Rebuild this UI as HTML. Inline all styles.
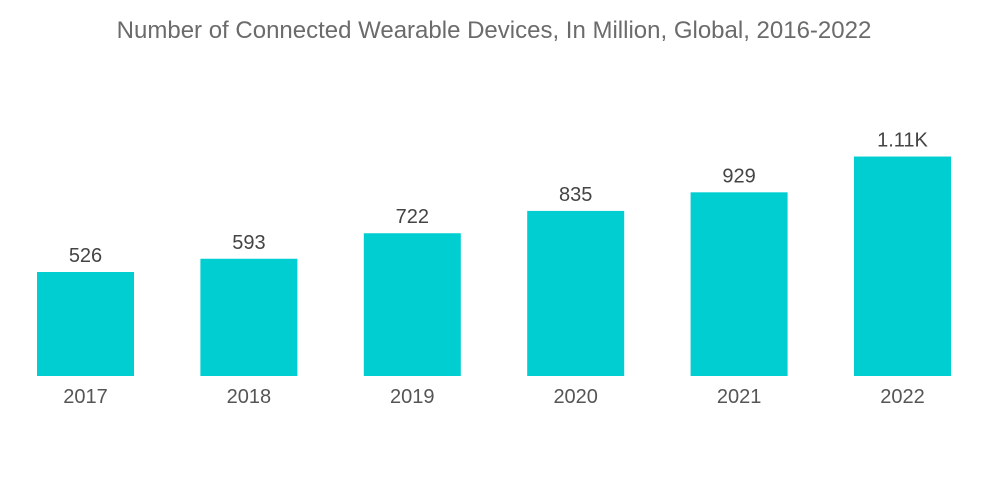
<!DOCTYPE html>
<html><head><meta charset="utf-8"><style>
body{margin:0;background:#fff;}
svg{display:block;font-family:"Liberation Sans",sans-serif;}
</style></head><body>
<svg id="chart" width="1000" height="504">
<text x="494" y="38" text-anchor="middle" font-size="24" fill="#6b6b6b">Number of Connected Wearable Devices, In Million, Global, 2016-2022</text>
</svg>
<script>
const categories=["2017","2018","2019","2020","2021","2022"];
const values=[526,593,722,835,929,1110];
const valueLabels=["526","593","722","835","929","1.11K"];
const svg=document.getElementById('chart');
const NS="http://www.w3.org/2000/svg";
const baseY=376, pxPerUnit=104/526, x0=37, step=163.4, bw=97;
function xPos(i){return x0+i*step;}
function yPos(v){return baseY-v*pxPerUnit;}
categories.forEach((c,i)=>{
  const x=xPos(i), y=yPos(values[i]);
  const r=document.createElementNS(NS,'rect');
  r.setAttribute('x',x);r.setAttribute('y',y);r.setAttribute('width',bw);r.setAttribute('height',baseY-y);r.setAttribute('fill','#00ced1');
  
  
  svg.appendChild(r);
  const t=document.createElementNS(NS,'text');
  t.setAttribute('x',x+bw/2);t.setAttribute('y',y-10);t.setAttribute('text-anchor','middle');t.setAttribute('font-size','20');t.setAttribute('fill','#444');
  t.textContent=valueLabels[i];
  
  
  svg.appendChild(t);
  const l=document.createElementNS(NS,'text');
  l.setAttribute('x',x+bw/2);l.setAttribute('y',403);l.setAttribute('text-anchor','middle');l.setAttribute('font-size','20');l.setAttribute('fill','#555');
  l.textContent=c;
  
  
  svg.appendChild(l);
});
</script>
</body></html>
